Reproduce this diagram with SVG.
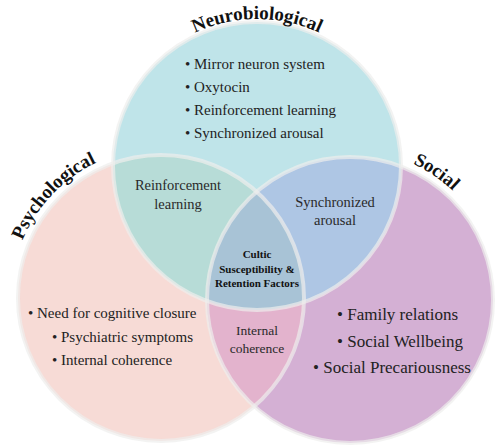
<svg xmlns="http://www.w3.org/2000/svg" xmlns:xlink="http://www.w3.org/1999/xlink" width="495" height="447" viewBox="0 0 495 447">
  <style>
    .set-title { font-family: "Liberation Serif", "Times New Roman", serif; font-weight: bold; font-size: 19px; fill: #111; }
    .item { font-family: "Liberation Serif", "Times New Roman", serif; font-size: 15px; fill: #222; }
    .item-lg { font-family: "Liberation Serif", "Times New Roman", serif; font-size: 17px; fill: #222; }
    .overlap { font-family: "Liberation Serif", "Times New Roman", serif; font-size: 14.5px; fill: #2a2a2a; text-anchor: middle; }
    .overlap-sm { font-family: "Liberation Serif", "Times New Roman", serif; font-size: 13.5px; fill: #2a2a2a; text-anchor: middle; }
    .core { font-family: "Liberation Serif", "Times New Roman", serif; font-size: 11px; font-weight: bold; fill: #111; text-anchor: middle; }
    .rim { fill: none; stroke: #eeeeec; stroke-opacity: 0.7; stroke-width: 4; }
  </style>
  <defs>
    <clipPath id="clip-neuro"><circle cx="257" cy="166" r="144"/></clipPath>
    <clipPath id="clip-psych"><circle cx="161" cy="298" r="143"/></clipPath>
    <clipPath id="clip-social"><circle cx="350" cy="300" r="143"/></clipPath>
    <!-- arcs that carry the curved set titles -->
    <path id="arc-neuro" d="M 112.23 140.48 A 147 147 0 0 1 401.77 140.48"/>
    <path id="arc-psych" d="M 48.65 397.39 A 150 150 0 0 1 254.38 180.61"/>
    <path id="arc-social" d="M 233.43 205.6 A 150 150 0 0 1 481.19 372.72"/>
  </defs>

  <rect width="495" height="447" fill="#ffffff"/>

  <!-- base discs -->
  <g id="discs">
    <circle cx="161" cy="298" r="143" fill="#f7dbd6"/>
    <circle cx="350" cy="300" r="143" fill="#d4b0d4"/>
    <circle cx="257" cy="166" r="144" fill="#bfe4e9"/>
    <!-- pairwise overlaps -->
    <circle cx="161" cy="298" r="143" fill="#b7dcd7" clip-path="url(#clip-neuro)"/>
    <circle cx="350" cy="300" r="143" fill="#aec6e4" clip-path="url(#clip-neuro)"/>
    <circle cx="350" cy="300" r="143" fill="#e3b3cd" clip-path="url(#clip-psych)"/>
    <!-- triple overlap -->
    <g clip-path="url(#clip-neuro)">
      <circle cx="350" cy="300" r="143" fill="#a8c3d6" clip-path="url(#clip-psych)"/>
    </g>
    <!-- pale rims -->
    <circle class="rim" cx="161" cy="298" r="143"/>
    <circle class="rim" cx="350" cy="300" r="143"/>
    <circle class="rim" cx="257" cy="166" r="144"/>
  </g>

  <g id="neurobiological">
    <text class="set-title"><textPath href="#arc-neuro" xlink:href="#arc-neuro" startOffset="50%" text-anchor="middle">Neurobiological</textPath></text>
    <text class="item" x="185" y="69">• Mirror neuron system</text>
    <text class="item" x="185" y="92">• Oxytocin</text>
    <text class="item" x="185" y="115">• Reinforcement learning</text>
    <text class="item" x="185" y="138">• Synchronized arousal</text>
  </g>

  <g id="psychological">
    <text class="set-title"><textPath href="#arc-psych" xlink:href="#arc-psych" startOffset="50%" text-anchor="middle">Psychological</textPath></text>
    <text class="item" x="28" y="318">• Need for cognitive closure</text>
    <text class="item" x="52" y="342">• Psychiatric symptoms</text>
    <text class="item" x="52" y="365">• Internal coherence</text>
  </g>

  <g id="social">
    <text class="set-title"><textPath href="#arc-social" xlink:href="#arc-social" startOffset="50%" text-anchor="middle">Social</textPath></text>
    <text class="item-lg" x="337" y="320">• Family relations</text>
    <text class="item-lg" x="337" y="347">• Social Wellbeing</text>
    <text class="item-lg" x="313" y="373">• Social Precariousness</text>
  </g>

  <g id="neuro-psych">
    <text class="overlap" x="178" y="190">Reinforcement</text>
    <text class="overlap" x="178" y="209">learning</text>
  </g>

  <g id="neuro-social">
    <text class="overlap" x="335" y="207">Synchronized</text>
    <text class="overlap" x="335" y="225">arousal</text>
  </g>

  <g id="psych-social">
    <text class="overlap-sm" x="257" y="335">Internal</text>
    <text class="overlap-sm" x="257" y="353">coherence</text>
  </g>

  <g id="core">
    <text class="core" x="257" y="258">Cultic</text>
    <text class="core" x="257" y="273">Susceptibility &amp;</text>
    <text class="core" x="257" y="287">Retention Factors</text>
  </g>
</svg>
